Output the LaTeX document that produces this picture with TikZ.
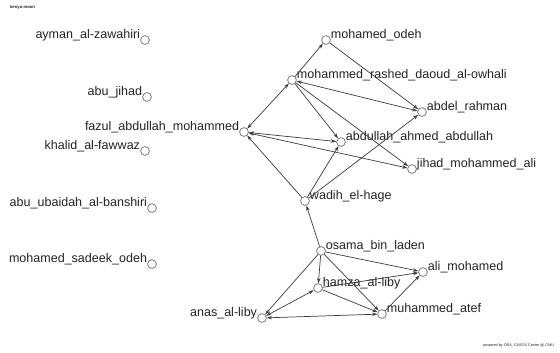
\documentclass[tikz,border=0pt]{standalone}
\usepackage{fontspec}
\setmainfont{Liberation Sans}
\usepackage{xcolor}
\usetikzlibrary{arrows.meta}
\definecolor{edgegray}{RGB}{60,60,60}
\definecolor{nodegray}{RGB}{110,110,110}
\definecolor{textdark}{RGB}{35,35,35}

\begin{document}
\begin{tikzpicture}[
    x=0.03cm, y=-0.03cm,
    >={Stealth[length=4.5pt, width=3pt]},
    actor/.style={circle, draw=nodegray, fill=white, line width=0.6pt, minimum size=7.5pt, inner sep=0pt},
    rlbl/.style={label={[text=textdark, font=\fontsize{10.7}{12}\selectfont, inner sep=1pt, anchor=base west, xshift=-1pt, yshift=1pt]east:#1}},
    llbl/.style={label={[text=textdark, font=\fontsize{10.7}{12}\selectfont, inner sep=1pt, anchor=base east, xshift=1pt, yshift=1pt]west:#1}},
    link/.style={draw=edgegray, line width=0.6pt, ->}
]

% Canvas
\useasboundingbox[fill=white] (0,0) rectangle (560,352);

% Title & Footer
\node[text=textdark, font=\fontsize{3.6}{4}\selectfont\bfseries, anchor=west] (title) at (6,7) {kenya-moon};
\node[text=textdark, font=\fontsize{3.2}{4}\selectfont, anchor=east] (footer) at (558,346) {powered by ORA, CASOS Center @ CMU};

% Isolated actors (labels on the left)
\node[actor, llbl=ayman\_al-zawahiri] (ayman) at (145,40) {};
\node[actor, llbl=abu\_jihad] (abujihad) at (147,97) {};
\node[actor, llbl=khalid\_al-fawwaz] (khalid) at (145,151) {};
\node[actor, llbl=abu\_ubaidah\_al-banshiri] (ubaidah) at (152,208) {};
\node[actor, llbl=mohamed\_sadeek\_odeh] (sadeek) at (152,264) {};

% Upper cluster
\node[actor, llbl=fazul\_abdullah\_mohammed] (fazul) at (244,132) {};
\node[actor, rlbl=mohamed\_odeh] (modeh) at (326,40) {};
\node[actor, rlbl=mohammed\_rashed\_daoud\_al-owhali] (owhali) at (292,80) {};
\node[actor, rlbl=abdel\_rahman] (rahman) at (422,112) {};
\node[actor, rlbl=abdullah\_ahmed\_abdullah] (abdullah) at (341,142) {};
\node[actor, rlbl=jihad\_mohammed\_ali] (jihad) at (412,169) {};
\node[actor, rlbl=wadih\_el-hage] (wadih) at (305,201) {};

% Lower cluster
\node[actor, rlbl=osama\_bin\_laden] (osama) at (321,251) {};
\node[actor, rlbl=ali\_mohamed] (ali) at (423,272) {};
\node[actor, rlbl=hamza\_al-liby] (hamza) at (318,288) {};
\node[actor, llbl=anas\_al-liby] (anas) at (262,318) {};
\node[actor, rlbl=muhammed\_atef] (atef) at (382,314) {};

% Upper cluster links
\draw[link, <->] (fazul) -- (owhali);
\draw[link] (owhali) -- (modeh);
\draw[link] (modeh) -- (rahman);
\draw[link, <->] (owhali) -- (rahman);
\draw[link] (owhali) -- (abdullah);
\draw[link] (owhali) -- (jihad);
\draw[link, <->] (fazul) -- (abdullah);
\draw[link, <->] (fazul) -- (jihad);
\draw[link] (wadih) -- (fazul);
\draw[link] (wadih) -- (abdullah);
\draw[link] (wadih) -- (rahman);

% Lower cluster links
\draw[link] (osama) -- (wadih);
\draw[link] (osama) -- (ali);
\draw[link] (osama) -- (hamza);
\draw[link] (osama) -- (anas);
\draw[link] (osama) -- (atef);
\draw[link] (hamza) -- (ali);
\draw[link, <->] (hamza) -- (anas);
\draw[link] (hamza) -- (atef);
\draw[link, <->] (anas) -- (atef);
\draw[link] (atef) -- (ali);

\end{tikzpicture}
\end{document}
